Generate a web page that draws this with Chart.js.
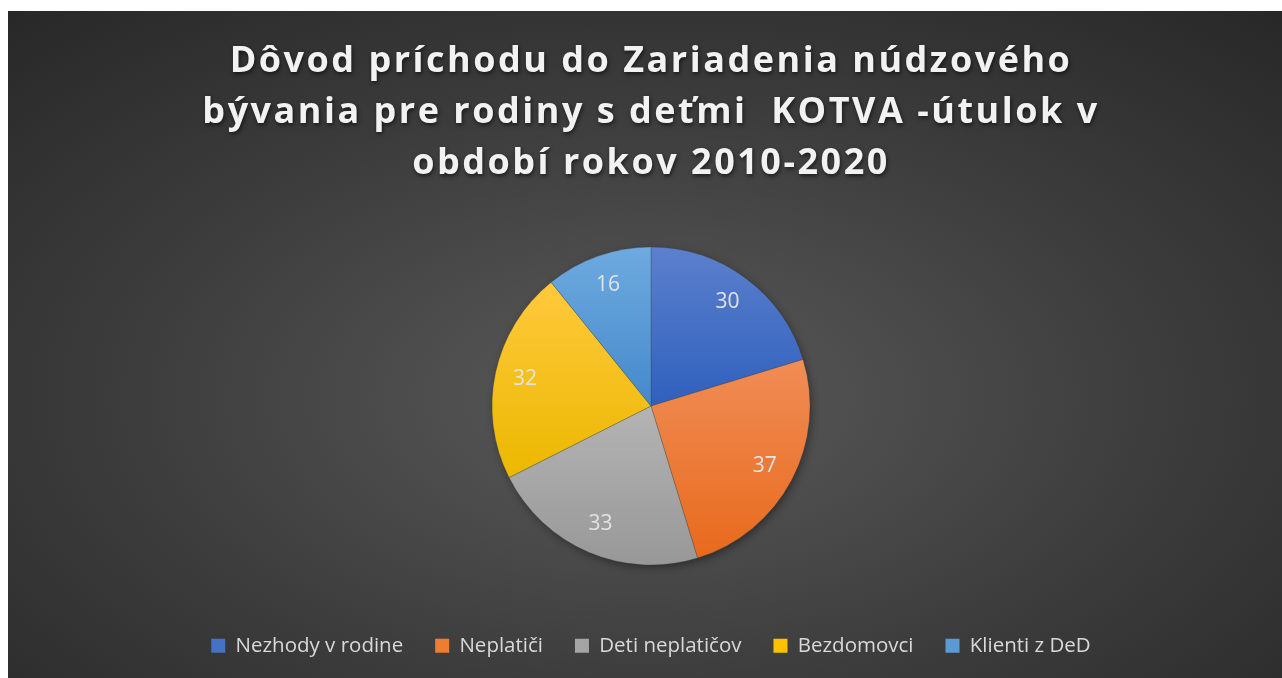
<!DOCTYPE html>
<html>
<head>
<meta charset="utf-8">
<script src="https://cdn.jsdelivr.net/npm/chart.js@4/dist/chart.umd.min.js"></script>
<style>
  html, body { margin: 0; padding: 0; background: #fff; }
  #wrap {
    position: absolute; left: 8px; top: 11px; width: 1274px; height: 667px;
    background: radial-gradient(ellipse 75% 80% at 50% 58%, #5a5a5a 0%, #3c3c3c 55%, #272727 100%);
  }
</style>
</head>
<body>
<div id="wrap"><canvas id="myChart"></canvas></div>
<script>
const titleLines = [
  'Dôvod príchodu do Zariadenia núdzového',
  'bývania pre rodiny s deťmi  KOTVA -útulok v',
  'období rokov 2010-2020'
];
const categories = ['Nezhody v rodine', 'Neplatiči', 'Deti neplatičov', 'Bezdomovci', 'Klienti z DeD'];
const counts = [30, 37, 33, 32, 16];

// slice colours: base (legend), lighter top and darker bottom of the gradient
const baseColors = ['#4472C4', '#ED7D31', '#A5A5A5', '#FFC000', '#5B9BD5'];
const topColors = ['#5c80cd', '#f08d57', '#b4b4b4', '#ffc93d', '#6eaadf'];
const bottomColors = ['#2f60bd', '#e86a1c', '#989898', '#ebb800', '#4589cb'];
const pieRadius = 159;

function sliceFill(c) {
  const i = c.dataIndex;
  const chart = c.chart;
  const area = chart.chartArea;
  if (!area) return baseColors[i];
  const cx = (area.left + area.right) / 2;
  const cy = (area.top + area.bottom) / 2;
  const data = c.dataset.data;
  const total = data.reduce((a, b) => a + b, 0);
  let before = 0;
  for (let k = 0; k < i; k++) before += data[k];
  const start = -Math.PI / 2 + 2 * Math.PI * before / total;
  const end = start + 2 * Math.PI * data[i] / total;
  const ys = [cy, cy + pieRadius * Math.sin(start), cy + pieRadius * Math.sin(end)];
  [-Math.PI / 2, Math.PI / 2, 3 * Math.PI / 2].forEach(a => {
    if (a >= start && a <= end) ys.push(cy + pieRadius * Math.sin(a));
  });
  const g = chart.ctx.createLinearGradient(0, Math.min(...ys), 0, Math.max(...ys));
  g.addColorStop(0, topColors[i]);
  g.addColorStop(1, bottomColors[i]);
  return g;
}

// title with letter spacing and a soft shadow
const titleStyle = {
  id: 'titleStyle',
  beforeDraw(chart) {
    const t = chart.titleBlock;
    if (t && !t._styled) {
      const orig = t.draw.bind(t);
      t.draw = function () {
        const ctx = chart.ctx;
        ctx.save();
        ctx.letterSpacing = '2.5px';
        ctx.shadowColor = 'rgba(0,0,0,0.6)';
        ctx.shadowBlur = 4;
        ctx.shadowOffsetX = 1;
        ctx.shadowOffsetY = 2;
        orig();
        ctx.restore();
      };
      t._styled = true;
    }
  }
};

// faint shadow under the pie
const pieShadow = {
  id: 'pieShadow',
  beforeDatasetsDraw(chart) {
    const arc = chart.getDatasetMeta(0).data[0];
    if (!arc) return;
    const { x, y, outerRadius } = arc.getProps(['x', 'y', 'outerRadius'], true);
    const ctx = chart.ctx;
    ctx.save();
    ctx.shadowColor = 'rgba(0,0,0,0.45)';
    ctx.shadowBlur = 10;
    ctx.shadowOffsetX = 2;
    ctx.shadowOffsetY = 3;
    ctx.fillStyle = '#555';
    ctx.beginPath();
    ctx.arc(x, y, outerRadius - 1, 0, Math.PI * 2);
    ctx.fill();
    ctx.restore();
  }
};

// value labels inside the slices
const sliceLabels = {
  id: 'sliceLabels',
  afterDatasetsDraw(chart) {
    const ctx = chart.ctx;
    const meta = chart.getDatasetMeta(0);
    ctx.save();
    ctx.font = '21px "Open Sans", sans-serif';
    ctx.fillStyle = '#e3e3e3';
    ctx.textAlign = 'center';
    ctx.textBaseline = 'middle';
    meta.data.forEach((arc, i) => {
      const p = arc.getProps(['x', 'y', 'startAngle', 'endAngle', 'outerRadius'], true);
      const mid = (p.startAngle + p.endAngle) / 2;
      const d = p.outerRadius * 0.81;
      ctx.fillText(String(chart.data.datasets[0].data[i]), p.x + d * Math.cos(mid), p.y + d * Math.sin(mid));
    });
    ctx.restore();
  }
};

const canvas = document.getElementById('myChart');
new Chart(canvas.getContext('2d'), {
  type: 'pie',
  data: {
    labels: categories,
    datasets: [{
      data: counts,
      backgroundColor: sliceFill,
      borderWidth: 0.5,
      borderColor: 'rgba(60,60,60,0.6)',
      radius: pieRadius
    }]
  },
  options: {
    responsive: true,
    maintainAspectRatio: false,
    animation: false,
    layout: { padding: { left: 12, bottom: 12 } },
    plugins: {
      title: {
        display: true,
        text: titleLines,
        color: '#f2f2f2',
        font: { family: '"Open Sans", sans-serif', size: 36, weight: 'bold', lineHeight: 51 / 36 },
        padding: { top: 25.5, bottom: 19 }
      },
      legend: {
        position: 'bottom',
        labels: {
          color: '#d9d9d9',
          boxWidth: 14,
          boxHeight: 14,
          padding: 32,
          font: { family: '"Open Sans", sans-serif', size: 20.5 },
          generateLabels(chart) {
            return categories.map((name, i) => ({
              text: name,
              fillStyle: baseColors[i],
              strokeStyle: baseColors[i],
              lineWidth: 0,
              fontColor: '#d9d9d9',
              hidden: false,
              index: i
            }));
          }
        }
      },
      tooltip: { enabled: false }
    }
  },
  plugins: [titleStyle, pieShadow, sliceLabels]
});
</script>
</body>
</html>
